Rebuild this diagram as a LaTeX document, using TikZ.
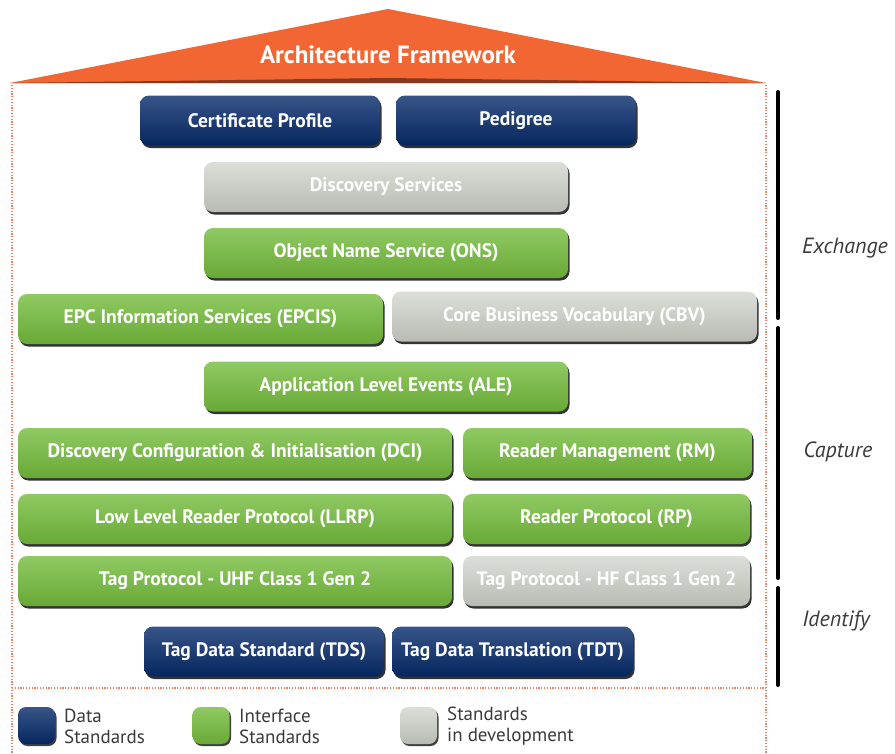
\documentclass[tikz,border=0pt]{standalone}
\usepackage{fontspec}
\setmainfont{PT Sans}
\usetikzlibrary{shadows}
\definecolor{navy}{HTML}{062A69}
\definecolor{igreen}{HTML}{74BC3C}
\definecolor{dgray}{HTML}{CDD0C8}
\definecolor{roof}{HTML}{F26634}
\definecolor{dotc}{HTML}{F08060}
\definecolor{labc}{HTML}{3A3A3A}
\begin{document}
\begin{tikzpicture}[x=1pt,y=-1pt,
 std/.style={rounded corners=9pt, minimum height=50pt, inner sep=0pt, text=white,
   font=\bfseries\fontsize{19.5}{22}\selectfont,
   drop shadow={shadow xshift=1.5pt, shadow yshift=-2.5pt, opacity=0.8, fill=black}},
 navybox/.style={std, top color=navy!80!white, middle color=navy, bottom color=navy!90!black},
 greenbox/.style={std, top color=igreen!80!white, middle color=igreen, bottom color=igreen!90!black},
 graybox/.style={std, top color=dgray!70!white, middle color=dgray, bottom color=dgray!90!black},
 legsq/.style={minimum width=37pt, minimum height=37pt, rounded corners=8pt, inner sep=0pt,
   drop shadow={shadow xshift=1.5pt, shadow yshift=-2pt, opacity=0.75, fill=black}},
 legtext/.style={anchor=west, align=left, text=labc, font=\fontsize{19}{21}\selectfont, inner sep=0pt},
 dotline/.style={draw=dotc, line width=1.2pt, dash pattern=on 1.2pt off 1.6pt},
 bracket/.style={line width=4pt, line cap=round, draw=black},
 phase/.style={text=labc, font=\itshape\fontsize{22}{26}\selectfont}
]
\useasboundingbox (0,0) rectangle (895,753);

% dotted frame
\coordinate (fl1) at (12,85); \coordinate (fl2) at (12,753);
\coordinate (fr1) at (766,85); \coordinate (fr2) at (766,753);
\coordinate (fh1) at (12,688); \coordinate (fh2) at (766,688);
\draw[dotline] (fl1) -- (fl2);
\draw[dotline] (fr1) -- (fr2);
\draw[dotline] (fh1) -- (fh2);

% roof
\fill[roof] (10,83) -- (388,9) -- (766,83) -- cycle;
\fill[roof!55!black] (10,83) -- (388,78) -- (766,83) -- cycle;
\node[text=white, font=\bfseries\fontsize{25}{28}\selectfont] (arch) at (388,55) {Architecture Framework};

% boxes
\node[navybox, minimum width=240pt] (cp) at (260,120.5) {Certificate Profile};
\node[navybox, minimum width=240pt] (ped) at (516,120.5) {Pedigree};
\node[graybox, minimum width=364pt] (ds) at (386,187) {Discovery Services};
\node[greenbox, minimum width=364pt] (ons) at (386,253) {Object Name Service (ONS)};
\node[greenbox, minimum width=365pt] (epcis) at (200.5,319) {EPC Information Services (EPCIS)};
\node[graybox, minimum width=365pt] (cbv) at (574.5,316.5) {Core Business Vocabulary (CBV)};
\node[greenbox, minimum width=364pt] (ale) at (386,386.5) {Application Level Events (ALE)};
\node[greenbox, minimum width=434pt] (dci) at (235,453) {Discovery Configuration \& Initialisation (DCI)};
\node[greenbox, minimum width=289pt] (rm) at (607.5,453) {Reader Management (RM)};
\node[greenbox, minimum width=434pt] (llrp) at (235,519) {Low Level Reader Protocol (LLRP)};
\node[greenbox, minimum width=287pt] (rp) at (606.5,519) {Reader Protocol (RP)};
\node[greenbox, minimum width=434pt] (uhf) at (235,581) {Tag Protocol - UHF Class 1 Gen 2};
\node[graybox, minimum width=287pt] (hf) at (606.5,581) {Tag Protocol - HF Class 1 Gen 2};
\node[navybox, minimum width=240pt] (tds) at (264,651.5) {Tag Data Standard (TDS)};
\node[navybox, minimum width=241pt] (tdt) at (512.5,651.5) {Tag Data Translation (TDT)};

% brackets
\coordinate (e1) at (778,92); \coordinate (e2) at (778,318);
\coordinate (c1) at (778,328); \coordinate (c2) at (778,578);
\coordinate (i1) at (778,588); \coordinate (i2) at (778,685);
\draw[bracket] (e1) -- (e2);
\draw[bracket] (c1) -- (c2);
\draw[bracket] (i1) -- (i2);
\node[phase] (exch) at (845,248) {Exchange};
\node[phase] (capt) at (838,452) {Capture};
\node[phase] (iden) at (836,621) {Identify};

% legend
\node[legsq, top color=navy!80!white, middle color=navy, bottom color=navy!90!black] (l1) at (36.5,725.5) {};
\node[legtext] (l1t) at (64,726) {Data\\Standards};
\node[legsq, top color=igreen!80!white, middle color=igreen, bottom color=igreen!90!black] (l2) at (211,725.5) {};
\node[legtext] (l2t) at (239,726) {Interface\\Standards};
\node[legsq, top color=dgray!70!white, middle color=dgray, bottom color=dgray!90!black] (l3) at (418.5,725.5) {};
\node[legtext] (l3t) at (447,726) {Standards\\in development};
\end{tikzpicture}
\end{document}
